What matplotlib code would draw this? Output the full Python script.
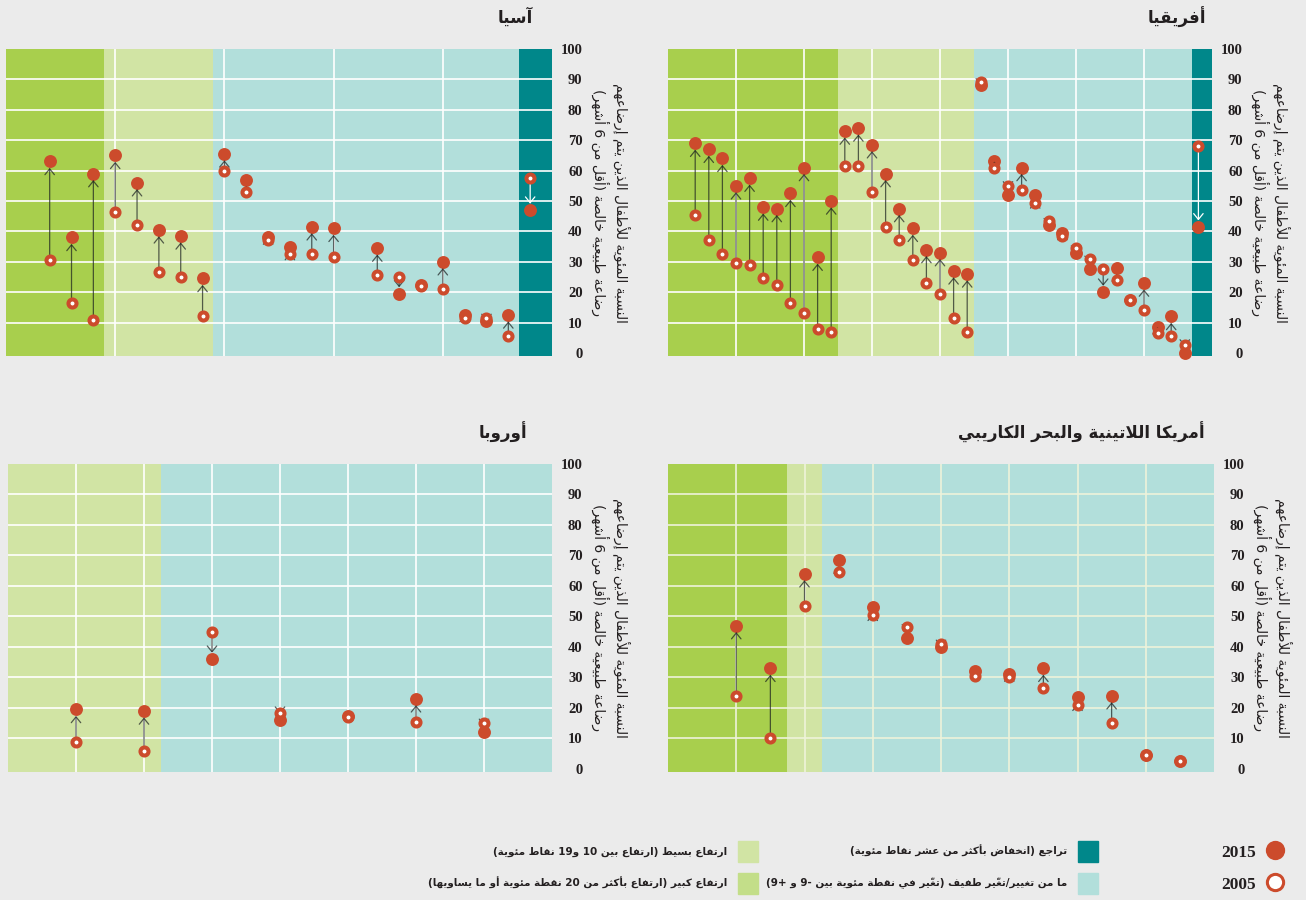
import numpy as np
import matplotlib
matplotlib.use("Agg")
import matplotlib.pyplot as plt
from matplotlib.patches import Patch
from matplotlib.lines import Line2D

plt.rcParams['font.family'] = ['DejaVu Sans']

# ---- values: % of infants exclusively breastfed ----
# countries left to right, grouped by change category
africa_2015 = [69, 67, 64, 55, 57.5, 48, 47.5, 52.5, 61, 31.5, 50,
               73, 74, 68.5, 59, 47.5, 41, 34, 33, 27, 26,
               88, 63, 52, 61, 52, 42, 39.5, 33, 27.5, 20, 28, 17.5, 23, 8.5, 12, 0,
               41.5]
africa_2005 = [45.5, 37, 32.5, 29.5, 29, 24.5, 22.5, 16.5, 13, 8, 7,
               61.5, 61.5, 53, 41.5, 37, 30.5, 23, 19.5, 11.5, 7,
               89, 61, 55, 53.5, 49.5, 43.5, 38.5, 34.5, 31, 27.5, 24, 17.5, 14, 6.5, 5.5, 2.5,
               68]
africa_groups = [11, 10, 16, 1]   # large rise, small rise, no change, decline

asia_2015 = [63, 38, 59, 65, 56, 40.5, 38.5, 24.5,
             65.5, 57, 38, 35, 41.5, 41, 34.5, 19.5, 22.5, 30, 12.5, 10.5, 12.5, 47]
asia_2005 = [30.5, 16.5, 11, 46.5, 42, 26.5, 25, 12,
             60, 53, 37, 32.5, 32.5, 31.5, 25.5, 25, 22, 21, 11.5, 11.5, 5.5, 57.5]
asia_groups = [3, 5, 13, 1]

latam_2015 = [47, 33, 64, 68.5, 53, 43, 40, 32, 31, 33, 23.5, 24, 4.5, 2.5]
latam_2005 = [24, 10, 53.5, 64.5, 50.5, 46.5, 41, 30.5, 30, 26.5, 21, 15, 4.5, 2.5]
latam_groups = [2, 1, 11, 0]

europe_2015 = [19.5, 19, 36, 16, 17.5, 23, 12]
europe_2005 = [9, 6, 45, 18.5, 17, 15.5, 15]
europe_groups = [0, 2, 5, 0]

titles = ["أفريقيا", "آسيا", "أمريكا اللاتينية والبحر الكاريبي", "أوروبا"]
ylabel = "النسبة المئوية للأطفال الذين يتم إرضاعهم\nرضاعة طبيعية خالصة (أقل من 6 أشهر)"
category_labels = [
    "ارتفاع كبير (ارتفاع بأكثر من 20 نقطة مئوية أو ما يساويها)",
    "ارتفاع بسيط (ارتفاع بين 10 و19 نقاط مئوية)",
    "ما من تغيير/تغيّر طفيف (تغيّر في نقطة مئوية بين -9 و +9)",
    "تراجع (انخفاض بأكثر من عشر نقاط مئوية)",
]
year_labels = ["2015", "2005"]
yticks = list(range(0, 101, 10))

BG = '#ebebeb'
RED = '#cc4b2c'
TXT = '#231f20'
zone_colors = ['#a8cf4d', '#d1e4a4', '#b2dfdb', '#00878a']
legend_colors = ['#c3de89', '#d1e4a4', '#b2dfdb', '#00878a']


# ---- minimal Arabic shaping + right-to-left ordering (matplotlib has none) ----
_joining = [('\u0621', 0xFE80, 1), ('\u0622', 0xFE81, 2), ('\u0623', 0xFE83, 2),
            ('\u0624', 0xFE85, 2), ('\u0625', 0xFE87, 2), ('\u0626', 0xFE89, 4),
            ('\u0627', 0xFE8D, 2), ('\u0628', 0xFE8F, 4), ('\u0629', 0xFE93, 2),
            ('\u062A', 0xFE95, 4), ('\u062B', 0xFE99, 4), ('\u062C', 0xFE9D, 4),
            ('\u062D', 0xFEA1, 4), ('\u062E', 0xFEA5, 4), ('\u062F', 0xFEA9, 2),
            ('\u0630', 0xFEAB, 2), ('\u0631', 0xFEAD, 2), ('\u0632', 0xFEAF, 2),
            ('\u0633', 0xFEB1, 4), ('\u0634', 0xFEB5, 4), ('\u0635', 0xFEB9, 4),
            ('\u0636', 0xFEBD, 4), ('\u0637', 0xFEC1, 4), ('\u0638', 0xFEC5, 4),
            ('\u0639', 0xFEC9, 4), ('\u063A', 0xFECD, 4), ('\u0641', 0xFED1, 4),
            ('\u0642', 0xFED5, 4), ('\u0643', 0xFED9, 4), ('\u0644', 0xFEDD, 4),
            ('\u0645', 0xFEE1, 4), ('\u0646', 0xFEE5, 4), ('\u0647', 0xFEE9, 4),
            ('\u0648', 0xFEED, 2), ('\u0649', 0xFEEF, 2), ('\u064A', 0xFEF1, 4)]
FORMS = {ch: [start + k for k in range(n)] for ch, start, n in _joining}
LAM_ALEF = {'\u0622': 0xFEF5, '\u0623': 0xFEF7, '\u0625': 0xFEF9, '\u0627': 0xFEFB}
MARKS = set(chr(c) for c in range(0x064B, 0x0660)) | {'\u0670'}
MIRROR = {'(': ')', ')': '(', '[': ']', ']': '['}


def jtype(b):
    if b.startswith('LA'):
        return 'R'
    if b in FORMS:
        return {4: 'D', 2: 'R'}.get(len(FORMS[b]), 'U')
    return 'U'


def rtl_line(s):
    clusters = []
    for ch in s:
        if ch in MARKS and clusters:
            clusters[-1][1] += ch
        else:
            clusters.append([ch, ''])
    merged = []
    i = 0
    while i < len(clusters):
        b, m = clusters[i]
        if b == '\u0644' and i + 1 < len(clusters) and clusters[i + 1][0] in LAM_ALEF:
            merged.append(['LA' + clusters[i + 1][0], m + clusters[i + 1][1]])
            i += 2
        else:
            merged.append([b, m])
            i += 1
    types = [jtype(b) for b, _ in merged]
    units = []
    for i, (b, m) in enumerate(merged):
        t = types[i]
        jp = i > 0 and types[i - 1] == 'D' and t in ('D', 'R')
        jn = t == 'D' and i + 1 < len(merged) and types[i + 1] in ('D', 'R')
        if b.startswith('LA'):
            g = chr(LAM_ALEF[b[2]] + (1 if jp else 0))
        elif b in FORMS:
            f = FORMS[b]
            g = chr(f[3] if jp and jn else f[1] if jp else f[2] if jn else f[0])
        else:
            g = MIRROR.get(b, b)
        ltr = b.isascii() and b.isalnum()
        if ltr and units and units[-1][1]:
            units[-1][0] += g + m
        else:
            units.append([g + m, ltr])
    return ''.join(u[0] for u in reversed(units))


def rtl(s):
    return '\n'.join(rtl_line(line) for line in s.split('\n'))


# ---- figure ----
W, H = 1306, 900
fig = plt.figure(figsize=(W / 100, H / 100), dpi=100, facecolor=BG)


def rect(l, t, w, h):
    return [l / W, 1 - (t + h) / H, w / W, h / H]


panels = [
    # title, 2015, 2005, groups, axes box (px), step, x max, grid step, gap after,
    # title inset, grid colour
    (titles[0], africa_2015, africa_2005, africa_groups, (668, 49, 544, 307), 1, 40, 5, None, 6, 'white'),
    (titles[1], asia_2015, asia_2005, asia_groups, (6, 49, 546, 307), 1, 25, 5, 14, 19, 'white'),
    (titles[2], latam_2015, latam_2005, latam_groups, (668, 464, 546, 308), 1, 16, 2, None, 9, '#eef3da'),
    (titles[3], europe_2015, europe_2005, europe_groups, (8, 464, 544, 308), 2, 16, 2, None, 25, 'white'),
]

for title, v15, v05, groups, box, step, xmax, gstep, gap, inset, gcol in panels:
    ax = fig.add_axes(rect(*box))
    n = len(v15)
    pos = 2 + step * np.arange(n, dtype=float)
    if gap is not None:
        pos[gap:] += step
    zone = np.repeat(np.arange(4), groups)

    # background bands, one per non-empty change category, meeting half a slot
    # after the last country of each band
    edges = np.cumsum([0] + groups)
    used = [k for k in range(4) if groups[k] > 0]
    bounds = [0] + [pos[edges[k + 1] - 1] + 0.5 for k in used[:-1]] + [xmax]
    for k, lo, hi in zip(used, bounds[:-1], bounds[1:]):
        ax.axvspan(lo, hi, color=zone_colors[k], lw=0, zorder=0)

    ax.set_xlim(0, xmax)
    ax.set_ylim(-1, 100)
    ax.set_xticks(np.arange(gstep, xmax, gstep))
    ax.set_yticks(yticks)
    ax.grid(True, color=gcol, lw=1.2)
    ax.get_ygridlines()[0].set_visible(False)
    ax.get_ygridlines()[-1].set_visible(False)
    for sp in ax.spines.values():
        sp.set_visible(False)
    ax.set_facecolor(BG)
    ax.tick_params(axis='x', length=0, labelbottom=False)
    ax.yaxis.tick_right()
    ax.tick_params(axis='y', length=0, pad=22)
    ax.set_yticklabels([str(t) for t in yticks], fontfamily='Liberation Serif',
                       fontweight='bold', fontsize=10.5, ha='right', color=TXT)

    for x, a, b, z in zip(pos, v05, v15, zone):
        if abs(b - a) < 1:
            continue
        c = 'white' if z == 3 else (0.1, 0.12, 0.12, 0.7)
        ax.annotate('', xy=(x, b), xytext=(x, a), zorder=3,
                    arrowprops=dict(arrowstyle='->,head_length=0.42,head_width=0.34',
                                    color=c, lw=0.9, shrinkA=0, shrinkB=4.6))
    ax.plot(pos, v15, 'o', ls='none', ms=9.3, color=RED, mew=0, zorder=2.5, clip_on=False)
    ax.plot(pos, v05, 'o', ls='none', ms=5.8, mfc='white', mec=RED, mew=2.9, zorder=4,
            clip_on=False)

    axw, axh = box[2], box[3]
    ax.text(1 - inset / axw, 1 + 32 / axh, rtl(title), transform=ax.transAxes,
            ha='right', va='center', fontsize=12, fontweight='bold', color=TXT)
    ax.text(1 + 59 / axw, 0.5, rtl(ylabel), transform=ax.transAxes, rotation=270,
            rotation_mode='anchor', ha='center', va='center', multialignment='center',
            fontsize=10, color=TXT, linespacing=1.2)

# ---- legend: three right-to-left columns ----
fs = 7.5
fpx = fs * 100 / 72
leg_kw = dict(loc='upper right', frameon=False, markerfirst=False, borderpad=0,
              borderaxespad=0, handlelength=20.5 / fpx,
              handleheight=(21 / fpx - 0.245) / 0.65, handletextpad=10 / fpx,
              labelspacing=1.03)
txt_prop = dict(weight='bold', size=fs)

l1 = fig.legend([Patch(color=legend_colors[1]), Patch(color=legend_colors[0])],
                [rtl(category_labels[1]), rtl(category_labels[0])],
                bbox_to_anchor=(758 / W, 1 - 841 / H), prop=txt_prop, **leg_kw)
l2 = fig.legend([Patch(color=legend_colors[3]), Patch(color=legend_colors[2])],
                [rtl(category_labels[3]), rtl(category_labels[2])],
                bbox_to_anchor=(1098 / W, 1 - 841 / H), prop=txt_prop, **leg_kw)
year_handles = [Line2D([], [], marker='o', ls='none', ms=13.9, color=RED, mew=0),
                Line2D([], [], marker='o', ls='none', ms=11.7, mfc='white', mec=RED, mew=2.2)]
l3 = fig.legend(year_handles, year_labels, loc='upper right', frameon=False,
                markerfirst=False, borderpad=0, borderaxespad=0, handlelength=1.15,
                handleheight=1.15, handletextpad=0.5, labelspacing=0.75,
                bbox_to_anchor=(1285 / W, 1 - 843 / H),
                prop=dict(family='Liberation Serif', weight='bold', size=12.5))
for lg in (l1, l2, l3):
    for t in lg.get_texts():
        t.set_color(TXT)

fig.savefig('out.png', dpi=100, facecolor=BG)
